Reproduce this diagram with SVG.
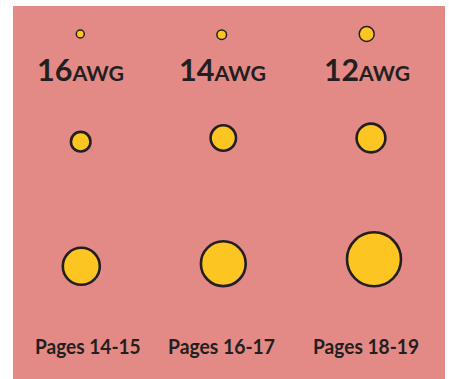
<svg xmlns="http://www.w3.org/2000/svg" width="449" height="379" viewBox="0 0 449 379">
<style>
.bg{fill:#e48a86}
.w{fill:#fdc521;stroke:#231f20}
.s1{stroke-width:1.5}
.s2{stroke-width:2.6}
.awg{font-family:"Lato","Open Sans",sans-serif;font-weight:bold;fill:#231f20}
.num{font-size:30px}
.sc{font-size:21px}
.pg{font-family:"Lato","Open Sans",sans-serif;font-weight:bold;font-size:21px;fill:#231f20}
</style>
<rect class="bg" x="13" y="6" width="432" height="373"/>
<g id="col16">
<circle class="w s1" cx="80.3" cy="34" r="4"/>
<text class="awg" x="37" y="81" textLength="87" lengthAdjust="spacingAndGlyphs"><tspan class="num">16</tspan><tspan class="sc">AWG</tspan></text>
<circle class="w s2" cx="80.7" cy="141.7" r="9.8"/>
<circle class="w s2" cx="81.3" cy="266.3" r="18.5"/>
<text class="pg" x="35" y="353.5" textLength="105.7" lengthAdjust="spacingAndGlyphs">Pages 14-15</text>
</g>
<g id="col14">
<circle class="w s1" cx="221.7" cy="34.7" r="4.8"/>
<text class="awg" x="179" y="81" textLength="87" lengthAdjust="spacingAndGlyphs"><tspan class="num">14</tspan><tspan class="sc">AWG</tspan></text>
<circle class="w s2" cx="223.3" cy="138" r="12.7"/>
<circle class="w s2" cx="223.3" cy="263.7" r="22.4"/>
<text class="pg" x="168" y="353.5" textLength="107" lengthAdjust="spacingAndGlyphs">Pages 16-17</text>
</g>
<g id="col12">
<circle class="w s1" cx="366.7" cy="34" r="7.5"/>
<text class="awg" x="324" y="81" textLength="86" lengthAdjust="spacingAndGlyphs"><tspan class="num">12</tspan><tspan class="sc">AWG</tspan></text>
<circle class="w s2" cx="371" cy="138" r="14.4"/>
<circle class="w s2" cx="374" cy="259.3" r="27"/>
<text class="pg" x="313" y="353.5" textLength="106" lengthAdjust="spacingAndGlyphs">Pages 18-19</text>
</g>
<g id="connectors"/>
</svg>
